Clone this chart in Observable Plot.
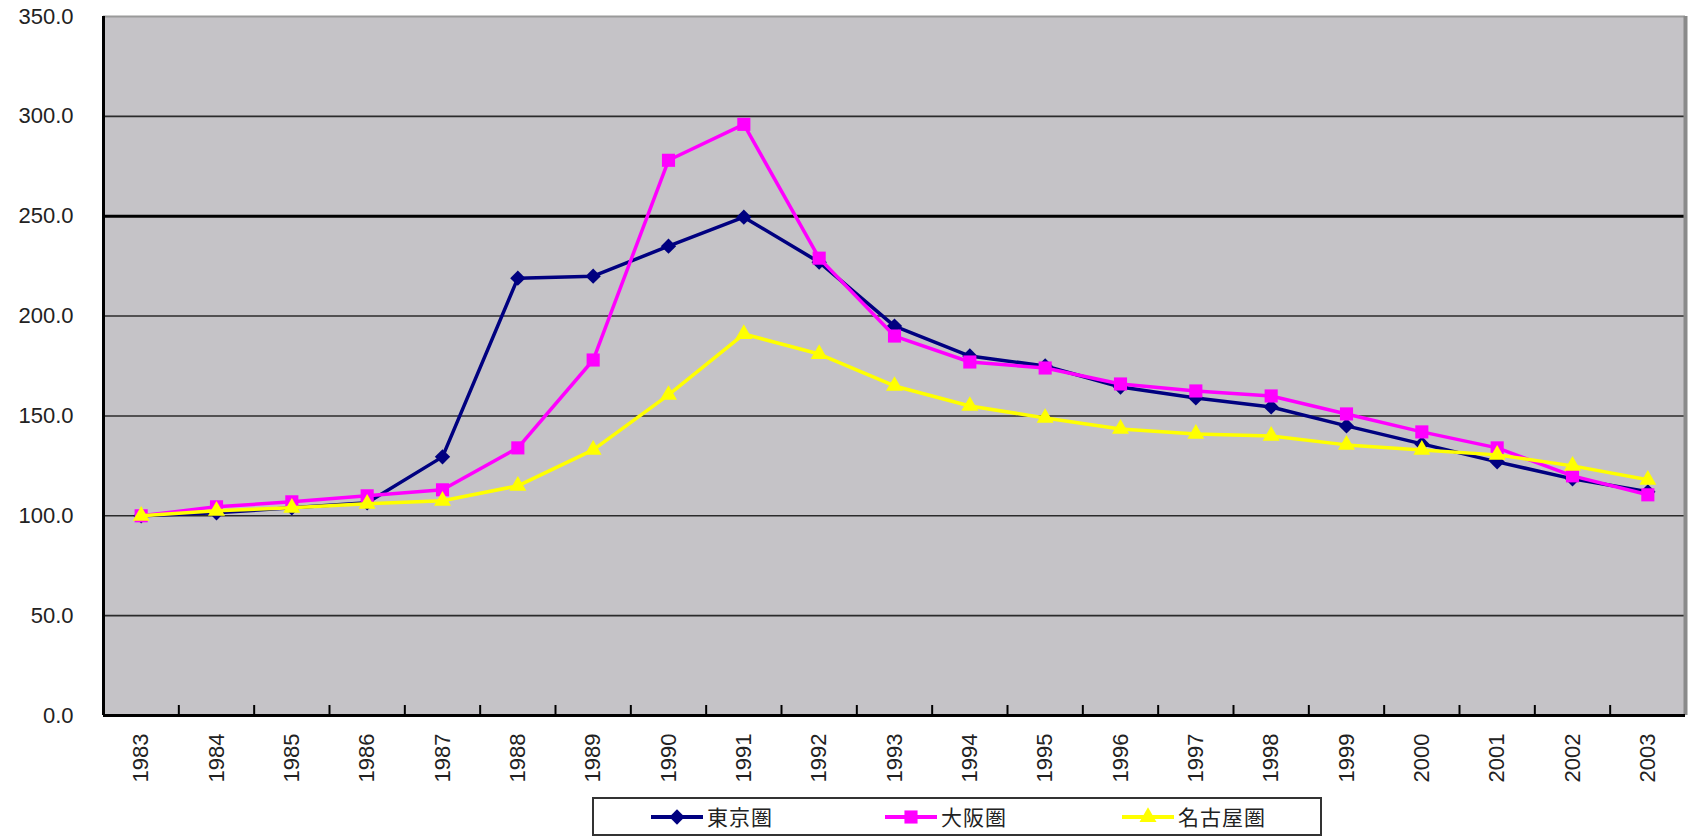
<!DOCTYPE html>
<html>
<head>
<meta charset="utf-8">
<script src="https://cdn.jsdelivr.net/npm/d3@7"></script>
<script src="https://cdn.jsdelivr.net/npm/@observablehq/plot@0.6"></script>
<style>
  html, body { margin: 0; padding: 0; background: #fff; }
  body { font-family: "Liberation Sans", Arial, sans-serif; }
  #chart { width: 1692px; }
  #legend {
    position: relative;
    margin-left: 592px;
    margin-top: 5px;
    width: 730px;
    height: 39px;
    box-sizing: border-box;
    border: 2px solid #333;
    background: #fff;
  }
  .item { position: absolute; top: 0; height: 35px; display: flex; align-items: center; }
  .item svg { display: block; }
  .item span {
    font-family: "Noto Sans CJK JP", "Noto Sans CJK SC", sans-serif;
    font-size: 21px; letter-spacing: 1px; color: #222; margin-left: 4px; line-height: 35px;
  }
</style>
</head>
<body>
<div id="chart"></div>
<div id="legend"></div>
<script>
// ---- data ----
const years = [1983,1984,1985,1986,1987,1988,1989,1990,1991,1992,1993,1994,1995,1996,1997,1998,1999,2000,2001,2002,2003];
const tokyo  = [100,101.5,104,106.5,129.5,219,220,235,249.5,227,195,180,175,164.5,159,154.5,145,136,127,118.5,112];
const osaka  = [100,104.5,107,110,113,134,178,278,296,229,190,177,174,166,162.5,160,151,142,134,120,110.5];
const nagoya = [100,102.5,104,106,107.5,115,133,160.5,191,181,165,155,149,143.5,141,140,135.5,133,130.5,125,118];
const seriesNames   = ["東京圏", "大阪圏", "名古屋圏"];
const seriesValues  = [tokyo, osaka, nagoya];
const seriesColors  = ["#000080", "#ff00ff", "#ffff00"];
const seriesSymbols = ["diamond2", "square", "triangle"];
const seriesRadius  = [6.9, 7.4, 6.3];
const yTicks = [0, 50, 100, 150, 200, 250, 300, 350];
const gridThin = [50, 100, 150, 200, 300];
const gridBold = [250];

// ---- derived table ----
const rows = [];
seriesNames.forEach((name, i) => {
  years.forEach((yr, j) => rows.push({series: name, year: yr, value: seriesValues[i][j]}));
});
const bounds = years.map(y => y - 0.5).concat([years[years.length - 1] + 0.5]);
const xDomain = [bounds[0], bounds[bounds.length - 1]];

const seriesMarks = [];
seriesNames.forEach((name, i) => {
  const data = rows.filter(d => d.series === name);
  seriesMarks.push(Plot.line(data, {x: "year", y: "value", stroke: seriesColors[i], strokeWidth: 3.5, strokeLinejoin: "round"}));
  seriesMarks.push(Plot.dot(data, {x: "year", y: "value", symbol: () => seriesSymbols[i], fill: seriesColors[i], stroke: "none", r: seriesRadius[i]}));
});

const chart = Plot.plot({
  width: 1692,
  height: 792,
  marginLeft: 103,
  marginRight: 7,
  marginTop: 16,
  marginBottom: 77,
  style: {fontFamily: '"Liberation Sans", Arial, sans-serif', fontSize: "22px", color: "#222", background: "#fff", overflow: "visible"},
  x: {type: "linear", domain: xDomain, label: null},
  y: {type: "linear", domain: [0, 350], label: null},
  symbol: {type: "identity"},
  marks: [
    Plot.frame({fill: "#c5c3c7", stroke: "none"}),
    Plot.ruleY(gridThin, {stroke: "#2b2b2b", strokeWidth: 1.6}),
    Plot.ruleY(gridBold, {stroke: "#000", strokeWidth: 3}),
    Plot.ruleY([350], {stroke: "#9a9a9a", strokeWidth: 2}),
    Plot.ruleX([xDomain[1]], {stroke: "#8a8a8a", strokeWidth: 4}),
    Plot.ruleX(bounds.slice(1, -1), {y1: 0, y2: 5, stroke: "#000", strokeWidth: 2}),
    Plot.ruleX([xDomain[0]], {stroke: "#000", strokeWidth: 3}),
    Plot.ruleY([0], {stroke: "#000", strokeWidth: 3}),
    ...seriesMarks,
    Plot.axisY(yTicks, {tickFormat: d => d.toFixed(1), tickSize: 0, tickPadding: 30, fontSize: 22, label: null}),
    Plot.axisX(years, {tickFormat: d => String(d), tickRotate: -90, tickSize: 0, tickPadding: 18, fontSize: 22, label: null})
  ]
});
document.getElementById("chart").appendChild(chart);

// ---- legend ----
const legend = document.getElementById("legend");
const itemLefts = [57, 291, 528];
seriesNames.forEach((name, i) => {
  const item = document.createElement("div");
  item.className = "item";
  item.style.left = itemLefts[i] + "px";
  const sym = {diamond2: d3.symbolDiamond2, square: d3.symbolSquare, triangle: d3.symbolTriangle}[seriesSymbols[i]];
  const path = d3.symbol(sym, Math.PI * seriesRadius[i] * seriesRadius[i])();
  item.innerHTML =
    `<svg width="52" height="20"><line x1="0" y1="10" x2="52" y2="10" stroke="${seriesColors[i]}" stroke-width="4"/>` +
    `<path d="${path}" transform="translate(26,10)" fill="${seriesColors[i]}"/></svg><span>${name}</span>`;
  legend.appendChild(item);
});
</script>
</body>
</html>
